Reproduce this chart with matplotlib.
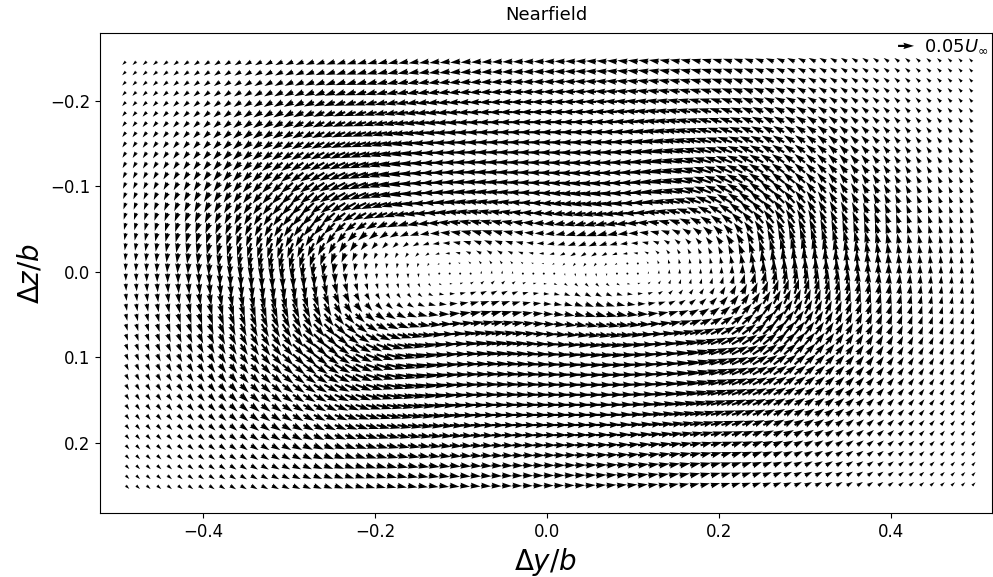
import numpy as np
import matplotlib
matplotlib.use("Agg")
import matplotlib.pyplot as plt

# grid of measurement points (spanwise y, vertical z, normalised by span b)
y_grid = np.linspace(-0.49, 0.495, 82)
z_grid = np.linspace(-0.246, 0.25, 43)

# vortex descriptors
vortex_y = [-0.178, 0.165]
vortex_z = [0.0, 0.0]
vortex_vmax = [0.045, 0.045]   # peak swirl velocity / U_inf
vortex_ry = [0.14, 0.14]       # spanwise core radius / b
vortex_rz = [0.11, 0.11]       # vertical core radius / b
inner_exp = 1.7
outer_exp = 3.5

key_speed = 0.05
key_label = r"$0.05U_\infty$"
x_ticks = [-0.4, -0.2, 0.0, 0.2, 0.4]
y_ticks = [-0.2, -0.1, 0.0, 0.1, 0.2]

Y, Z = np.meshgrid(y_grid, z_grid)
U = np.zeros_like(Y)
W = np.zeros_like(Y)
for yc, zc, vm, a, c in zip(vortex_y, vortex_z, vortex_vmax, vortex_ry, vortex_rz):
    dy = Y - yc
    dz = Z - zc
    s = np.hypot(dy / a, dz / c) + 1e-12
    peak = (inner_exp / (outer_exp - inner_exp)) ** (1 / outer_exp)
    norm = peak ** inner_exp / (1 + peak ** outer_exp)
    vt = vm * (s ** inner_exp / (1 + s ** outer_exp)) / norm
    k = np.sqrt(a * c)
    U += vt * k * dz / (c * c * s)
    W += -vt * k * dy / (a * a * s)

fig = plt.figure(figsize=(9.93, 5.77), dpi=100)
ax = fig.add_axes([0.1007, 0.111, 0.8983, 0.8319])
px_per_unit = 860.0
scale = key_speed / (16.0 / px_per_unit)
q = ax.quiver(Y, Z, U, W, angles="xy", scale_units="xy", scale=scale)
ax.set_xlim(-0.52, 0.518)
ax.set_ylim(0.282, -0.2795)
ax.set_xticks(x_ticks)
ax.set_yticks(y_ticks)
ax.tick_params(labelsize=12)
ax.set_xlabel(r"$\Delta y/b$", fontsize=20)
ax.set_ylabel(r"$\Delta z/b$", fontsize=20)
ax.set_title("Nearfield", fontsize=13, pad=9)
ax.quiverkey(q, 0.9126, 0.973, key_speed, key_label, labelpos="E",
             coordinates="axes", fontproperties={"size": 13})
fig.savefig("out.png", dpi=100)
